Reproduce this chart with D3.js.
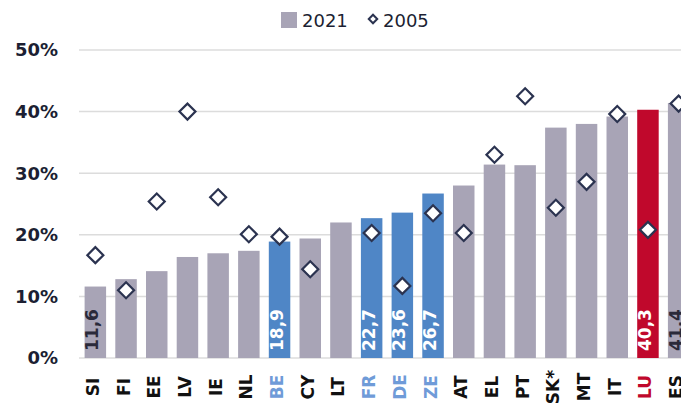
<!DOCTYPE html>
<html>
<head>
<meta charset="utf-8">
<script src="https://cdn.jsdelivr.net/npm/d3@7"></script>
<style>
  body { margin: 0; background: #fff; }
  svg { display: block; font-family: "DejaVu Sans", sans-serif; }
</style>
</head>
<body>
<div id="chart"></div>
<script>
// data
const countries = ["SI","FI","EE","LV","IE","NL","BE","CY","LT","FR","DE","ZE","AT","EL","PT","SK*","MT","IT","LU","ES"];
const values2021 = [11.6,12.8,14.1,16.4,17.0,17.4,18.9,19.4,22.0,22.7,23.6,26.7,28.0,31.4,31.3,37.4,38.0,39.2,40.3,41.4];
const values2005 = [16.7,11.0,25.4,40.0,26.1,20.1,19.7,14.4,null,20.3,11.7,23.5,20.3,33.0,42.5,24.4,28.6,39.6,20.8,41.3];
const labelled = ["SI","BE","FR","DE","ZE","LU","ES"];
const blueOnes = ["BE","FR","DE","ZE"];
const yTicks = [0,10,20,30,40,50];

const width = 681, height = 407;
const gray = "#a8a4b6", blue = "#4f86c6", red = "#c0082c";

const svg = d3.select("#chart").append("svg")
    .attr("width", width)
    .attr("height", height);

const x = d3.scaleBand()
    .domain(countries)
    .range([80, 80 + countries.length * 30.7])
    .paddingInner(0.3)
    .paddingOuter(0.15);

const y = d3.scaleLinear()
    .domain([0, 50])
    .range([358, 50]);

function barColor(c) {
    if (c === "LU") return red;
    if (blueOnes.includes(c)) return blue;
    return gray;
}

// gridlines + y labels
svg.append("g")
    .selectAll("line")
    .data(yTicks)
    .enter()
    .append("line")
    .attr("x1", 79).attr("x2", width)
    .attr("y1", d => y(d)).attr("y2", d => y(d))
    .attr("stroke", "#dcdcdc")
    .attr("stroke-width", 1.5);

svg.append("g")
    .selectAll("text")
    .data(yTicks)
    .enter()
    .append("text")
    .attr("x", 58)
    .attr("y", d => y(d))
    .attr("dy", "0.36em")
    .attr("text-anchor", "end")
    .attr("font-size", 18)
    .attr("font-weight", "bold")
    .attr("fill", "#1c1f33")
    .text(d => d + "%");

// bars
const data = countries.map((c, i) => ({c: c, v21: values2021[i], v05: values2005[i]}));

svg.append("g")
    .selectAll("rect")
    .data(data)
    .enter()
    .append("rect")
    .attr("x", d => x(d.c))
    .attr("y", d => y(d.v21))
    .attr("width", x.bandwidth())
    .attr("height", d => y(0) - y(d.v21))
    .attr("fill", d => barColor(d.c));

// value labels inside bars
svg.append("g")
    .selectAll("text")
    .data(data.filter(d => labelled.includes(d.c)))
    .enter()
    .append("text")
    .attr("transform", d => "translate(" + (x(d.c) + x.bandwidth() / 2 + 3) + "," + (y(0) - 7) + ") rotate(-90)")
    .attr("font-size", 17)
    .attr("font-weight", "bold")
    .attr("fill", d => (d.c === "SI" || d.c === "ES") ? "#2a2a3a" : "#fff")
    .text(d => String(d.v21).replace(".", ","));

// 2005 diamonds
const diamond = d3.symbol().type(d3.symbolSquare).size(128);
svg.append("g")
    .selectAll("path")
    .data(data.filter(d => d.v05 != null))
    .enter()
    .append("path")
    .attr("d", diamond)
    .attr("transform", d => "translate(" + (x(d.c) + x.bandwidth() / 2) + "," + y(d.v05) + ") rotate(45)")
    .attr("fill", "#fff")
    .attr("stroke", "#2b3350")
    .attr("stroke-width", 2.2);

// x labels
svg.append("g")
    .selectAll("text")
    .data(countries)
    .enter()
    .append("text")
    .attr("transform", d => "translate(" + (x(d) + x.bandwidth() / 2 + 3.5) + ",387) rotate(-90)")
    .attr("text-anchor", "middle")
    .attr("font-size", 17)
    .attr("font-weight", "bold")
    .attr("fill", d => d === "LU" ? red : (blueOnes.includes(d) ? "#6f9bd8" : "#111"))
    .text(d => d);

// legend
const legend = svg.append("g");
legend.append("rect")
    .attr("x", 281).attr("y", 12)
    .attr("width", 16).attr("height", 16)
    .attr("fill", gray);
legend.append("text")
    .attr("x", 302).attr("y", 27)
    .attr("font-size", 18)
    .attr("fill", "#1c1f33")
    .text("2021");
legend.append("path")
    .attr("d", d3.symbol().type(d3.symbolSquare).size(36))
    .attr("transform", "translate(373,19) rotate(45)")
    .attr("fill", "#fff")
    .attr("stroke", "#2b3350")
    .attr("stroke-width", 2);
legend.append("text")
    .attr("x", 383).attr("y", 27)
    .attr("font-size", 18)
    .attr("fill", "#1c1f33")
    .text("2005");
</script>
</body>
</html>
